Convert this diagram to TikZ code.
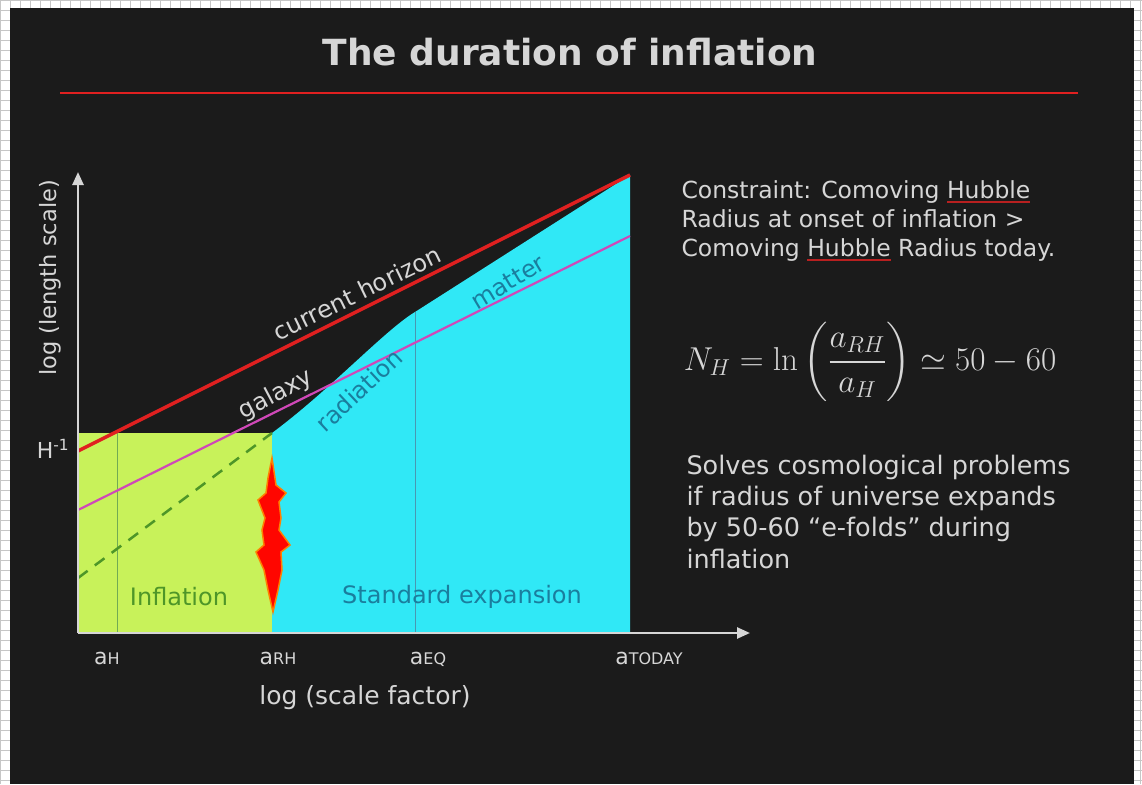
\documentclass[tikz,border=0pt]{standalone}
\usepackage{amsmath}
\usepackage{graphicx}
\usepackage[no-math]{fontspec}
\setmainfont{DejaVu Sans}
\usetikzlibrary{arrows.meta}

\definecolor{slide}{HTML}{1B1B1B}
\definecolor{chalk}{HTML}{D6D6D6}
\definecolor{inflgreen}{HTML}{C8F25A}
\definecolor{stdcyan}{HTML}{30E8F6}
\definecolor{horizonred}{HTML}{E02020}
\definecolor{galaxypink}{HTML}{D048B8}
\definecolor{darkteal}{HTML}{1A7E9E}
\definecolor{leafgreen}{HTML}{4E9628}
\definecolor{spellred}{HTML}{B82020}

\newcommand{\spellmark}[1]{\setbox0\hbox{#1}\rlap{\color{spellred}\rule[-5pt]{\wd0}{2pt}}\box0{}}
\newcommand{\scalefac}[1]{{\fontsize{22}{22}\selectfont a}{\fontsize{16}{16}\selectfont #1}}

\begin{document}
\begin{tikzpicture}[x=1pt, y=-1pt,
    axis/.style={chalk, line width=2.5pt, -{Triangle[length=13pt, width=11pt]}},
    curvelabel/.style={font=\fontsize{24}{24}\selectfont},
    ticklabel/.style={chalk, anchor=base},
    bodytext/.style={chalk, align=left, anchor=base west}]
    \useasboundingbox (0,0) rectangle (1142,784);

    % Graph paper behind the slide
    \fill[white] (0,0) rectangle (1142,784);
    \draw[step=10pt, gray!45, thin] (0,0) grid (1142,784);
    \fill[slide] (10,8) rectangle (1134,784);

    % Title and rule
    \node[chalk, font=\fontsize{36}{36}\selectfont\bfseries, anchor=base] (title) at (570,66) {The duration of inflation};
    \coordinate (ruleL) at (60,93);
    \coordinate (ruleR) at (1078,93);
    \draw[horizonred, line width=2.5pt] (ruleL) -- (ruleR);

    % Key points of the plot
    \coordinate (O) at (78,633);
    \coordinate (ytip) at (78,172);
    \coordinate (xtip) at (750,633);
    \coordinate (RHtop) at (272,433);
    \coordinate (RHbot) at (272,633);
    \coordinate (EQtop) at (415,312);
    \coordinate (EQbot) at (415,633);
    \coordinate (nowtop) at (630,175);
    \coordinate (nowbot) at (630,633);
    \coordinate (aHtop) at (117,433);
    \coordinate (aHbot) at (117,633);

    % Inflation and standard expansion regions
    \fill[inflgreen] (O) rectangle (RHtop);
    \fill[stdcyan] (RHbot) -- (RHtop) .. controls (330,390) and (385,330) .. (EQtop)
        -- (nowtop) -- (nowbot) -- cycle;
    \draw[leafgreen!80, line width=1pt] (aHtop) -- (aHbot);
    \draw[darkteal!80, line width=1pt] (EQtop) -- (EQbot);

    % Dashed inflation line
    \coordinate (dashL) at (78,578);
    \draw[leafgreen, line width=2.5pt, dash pattern=on 12pt off 9pt] (dashL) -- (RHtop);

    % Galaxy and horizon lines
    \coordinate (galL) at (78,510);
    \coordinate (galR) at (630,236);
    \draw[galaxypink, line width=2.2pt] (galL) -- (galR);
    \coordinate (horL) at (78,451);
    \draw[horizonred, line width=3.5pt] (horL) -- (nowtop);

    % Reheating burst
    \draw[orange, fill=red!95!orange, line width=1.5pt, line join=miter]
        (272,458) -- (276,485) -- (286,493) -- (279,502) -- (281,518) -- (279,530)
        -- (290,545) -- (281,552) -- (282,570) -- (278,590) -- (273,612)
        -- (268,590) -- (264,570) -- (256,552) -- (264,545) -- (262,530)
        -- (265,518) -- (258,500) -- (266,493) -- (268,478) -- cycle;

    % Axes
    \draw[axis] (O) -- (ytip);
    \draw[axis] (O) -- (xtip);

    % Curve labels
    \node[curvelabel, chalk, rotate=26] (horizon) at (357,293) {current horizon};
    \node[curvelabel, chalk, rotate=28] (galaxy) at (276,395) {galaxy};
    \node[curvelabel, darkteal, rotate=43] (radiation) at (359,390) {radiation};
    \node[curvelabel, darkteal, rotate=31] (matter) at (508,282) {matter};
    \node[curvelabel, leafgreen] (inflation) at (179,597) {Inflation};
    \node[curvelabel, darkteal] (standard) at (462,597) {Standard expansion};

    % Axis labels
    \node[chalk, font=\fontsize{22}{22}\selectfont] (hinv) at (53,449) {H\textsuperscript{-1}};
    \node[chalk, font=\fontsize{22.5}{22.5}\selectfont, rotate=90] (ylabel) at (50,278) {log (length scale)};
    \node[ticklabel] (aH) at (107,664) {\scalefac{H}};
    \node[ticklabel] (aRH) at (278,664) {\scalefac{RH}};
    \node[ticklabel] (aEQ) at (428,664) {\scalefac{EQ}};
    \node[ticklabel] (aTODAY) at (649,664) {\scalefac{TODAY}};
    \node[chalk, font=\fontsize{25}{25}\selectfont] (xlabel) at (365,698) {log (scale factor)};

    % Text on the right
    \node[bodytext, font=\fontsize{23.5}{29}\selectfont] (constraint) at (678,256)
        {Constraint: Comoving \spellmark{Hubble}\\
         Radius at onset of inflation >\\
         Comoving \spellmark{Hubble} Radius today.};
    \node[chalk, font=\fontsize{24}{28}\selectfont] (efolds) at (870,362)
        {\scalebox{1.33}{$N_H = \ln\left(\dfrac{a_{RH}}{a_H}\right) \simeq 50-60$}};
    \node[bodytext, font=\fontsize{25.5}{31.3}\selectfont] (solves) at (683,568)
        {Solves cosmological problems\\
         if radius of universe expands\\
         by 50-60 “e-folds” during\\
         inflation};
\end{tikzpicture}
\end{document}
